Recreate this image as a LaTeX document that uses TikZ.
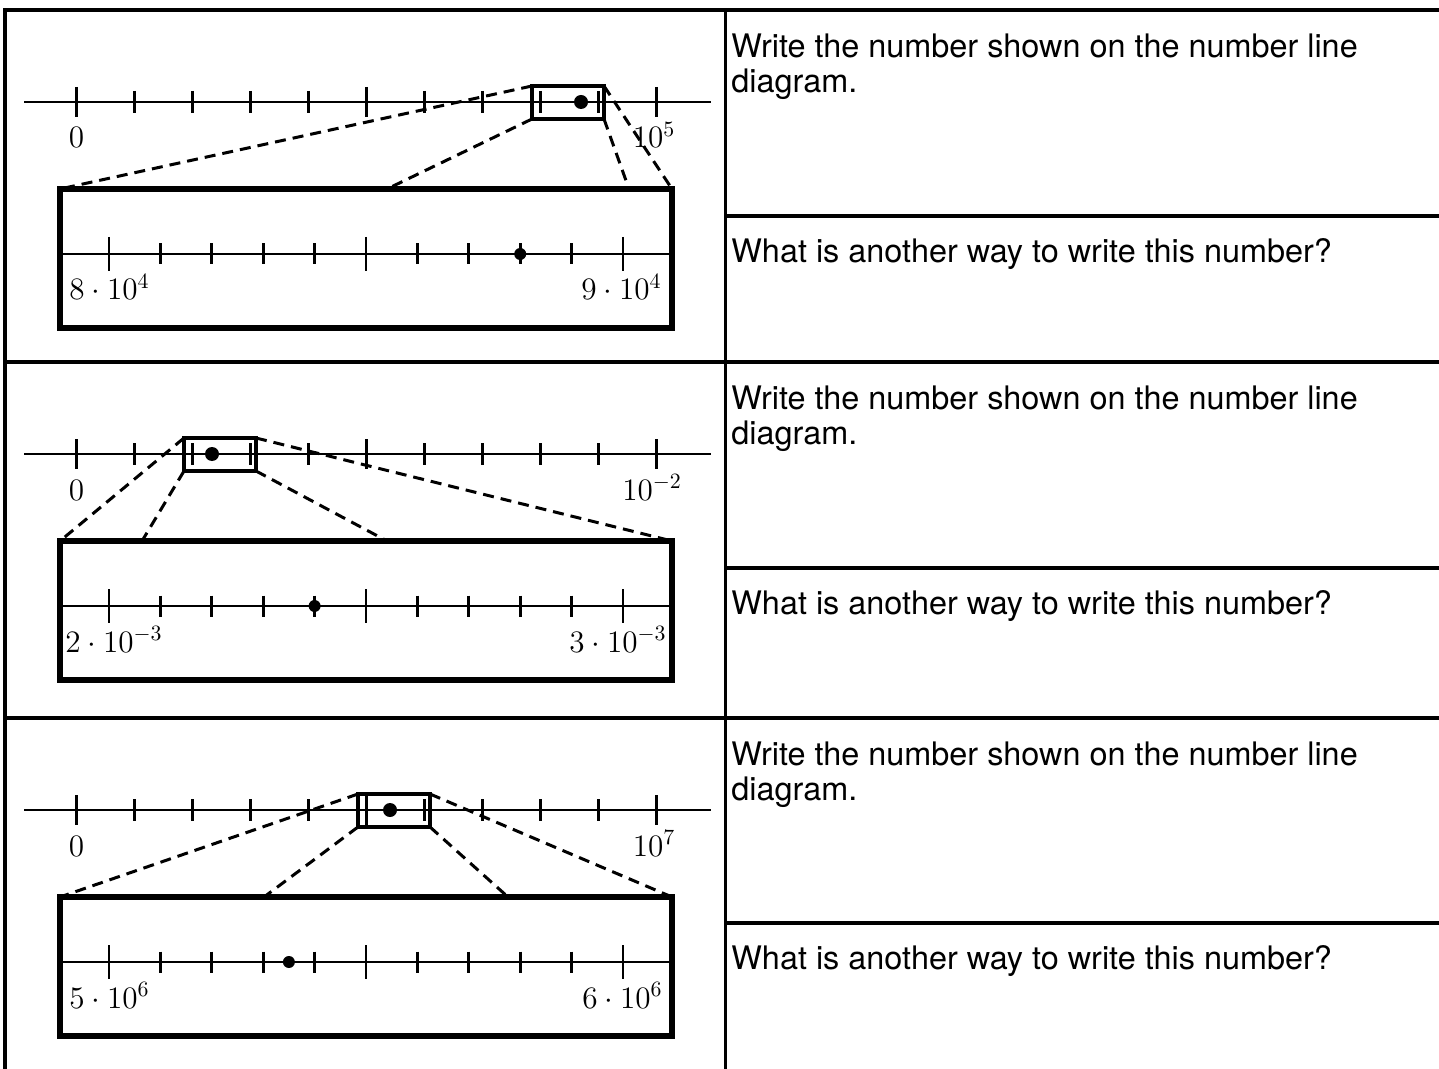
\RequirePackage{fix-cm}
\documentclass[tikz,border=0pt]{standalone}
\usepackage{amsmath}
\usepackage{fontspec}
\newfontfamily\heros{TeX Gyre Heros}
\usepackage{tikz}

\begin{document}
\begin{tikzpicture}[x=0.5pt,y=-0.5pt,
  tableline/.style={line width=1.65pt},
  numline/.style={line width=1.4pt},
  winbox/.style={draw,line width=1.6pt,minimum width=36pt,minimum height=16.5pt,inner sep=0pt,outer sep=0pt},
  bigbox/.style={draw,line width=2.6pt,minimum width=306pt,minimum height=69.5pt,inner sep=0pt,outer sep=0pt},
  zoomline/.style={line width=1.5pt,dash pattern=on 5.5pt off 3.5pt},
  lab/.style={anchor=base,inner sep=0pt,font=\fontsize{15.6}{19}\selectfont},
  question/.style={anchor=north west,align=left,inner sep=0pt,font=\heros\fontsize{16.2}{17.5}\selectfont}]
\useasboundingbox (0,0) rectangle (1439,1069);

% table
\draw [tableline] (5,1069) -- (5,10) -- (1439,10);
\draw [tableline] (725.5,10) -- (725.5,1069);
\draw [tableline] (5,362) -- (1439,362);
\draw [tableline] (5,718) -- (1439,718);
\draw [tableline] (725.5,216) -- (1439,216);
\draw [tableline] (725.5,568) -- (1439,568);
\draw [tableline] (725.5,923) -- (1439,923);
\node [question] (Q1a) at (731,33) {Write the number shown on the number line\\diagram.};
\node [question] (Q1b) at (731,238) {What is another way to write this number?};
\node [question] (Q2a) at (731,385) {Write the number shown on the number line\\diagram.};
\node [question] (Q2b) at (731,590) {What is another way to write this number?};
\node [question] (Q3a) at (731,741) {Write the number shown on the number line\\diagram.};
\node [question] (Q3b) at (731,945) {What is another way to write this number?};

% first row
\begin{scope}[shift={(0,10)}]
\draw [numline] (24,92) -- (711,92);
\foreach \i in {1,2,3,4,6,7,8,9} \draw [numline] ({76.5+58*\i},81) -- ({76.5+58*\i},103);
\foreach \i in {0,5,10} \draw [numline] ({76.5+58*\i},77) -- ({76.5+58*\i},107);
\node [lab] (A0) at (76.5,138) {$0$};
\node [lab] (A1) at (654,138) {$10^5$};
\node [winbox] (W1) at (568,92.5) {};
\fill (581,92) circle (3.5pt);
\node [bigbox] (B1) at (366,248.5) {};
\draw [numline] (60,244) -- (672,244);
\foreach \i in {1,2,3,4,6,7,8,9} \draw [numline] ({109+51.4*\i},233.5) -- ({109+51.4*\i},254.5);
\foreach \i in {0,5,10} \draw [numline] ({109+51.4*\i},227) -- ({109+51.4*\i},261);
\node [lab] (C0) at (109.5,290) {$8\cdot10^4$};
\node [lab] (C1) at (621.5,290) {$9\cdot10^4$};
\fill (520.2,244) circle (3pt);
\coordinate (P1) at (387,179);
\coordinate (R1) at (629,179);
\draw [zoomline] (W1.north west) -- (B1.north west);
\draw [zoomline] (W1.south west) -- (P1);
\draw [zoomline] (W1.north east) -- (B1.north east);
\draw [zoomline] (W1.south east) -- (R1);
\end{scope}

% second row
\begin{scope}[shift={(0,362)}]
\draw [numline] (24,92) -- (711,92);
\foreach \i in {1,2,3,4,6,7,8,9} \draw [numline] ({76.5+58*\i},81) -- ({76.5+58*\i},103);
\foreach \i in {0,5,10} \draw [numline] ({76.5+58*\i},77) -- ({76.5+58*\i},107);
\node [lab] (A0) at (76.5,138) {$0$};
\node [lab] (A1) at (652,138) {$10^{-2}$};
\node [winbox] (W2) at (220,92.5) {};
\fill (212,92) circle (3.5pt);
\node [bigbox] (B2) at (366,248.5) {};
\draw [numline] (60,244) -- (672,244);
\foreach \i in {1,2,3,4,6,7,8,9} \draw [numline] ({109+51.4*\i},233.5) -- ({109+51.4*\i},254.5);
\foreach \i in {0,5,10} \draw [numline] ({109+51.4*\i},227) -- ({109+51.4*\i},261);
\node [lab] (C0) at (114,290) {$2\cdot10^{-3}$};
\node [lab] (C1) at (618,290) {$3\cdot10^{-3}$};
\fill (314.6,244) circle (3pt);
\coordinate (P2) at (142,179);
\coordinate (R2) at (387,179);
\draw [zoomline] (W2.north west) -- (B2.north west);
\draw [zoomline] (W2.south west) -- (P2);
\draw [zoomline] (W2.north east) -- (B2.north east);
\draw [zoomline] (W2.south east) -- (R2);
\end{scope}

% third row
\begin{scope}[shift={(0,718)}]
\draw [numline] (24,92) -- (711,92);
\foreach \i in {1,2,3,4,6,7,8,9} \draw [numline] ({76.5+58*\i},81) -- ({76.5+58*\i},103);
\foreach \i in {0,5,10} \draw [numline] ({76.5+58*\i},77) -- ({76.5+58*\i},107);
\node [lab] (A0) at (76.5,138) {$0$};
\node [lab] (A1) at (654,138) {$10^7$};
\node [winbox] (W3) at (394,92.5) {};
\fill (390,92) circle (3.5pt);
\node [bigbox] (B3) at (366,248.5) {};
\draw [numline] (60,244) -- (672,244);
\foreach \i in {1,2,3,4,6,7,8,9} \draw [numline] ({109+51.4*\i},233.5) -- ({109+51.4*\i},254.5);
\foreach \i in {0,5,10} \draw [numline] ({109+51.4*\i},227) -- ({109+51.4*\i},261);
\node [lab] (C0) at (109.5,290) {$5\cdot10^6$};
\node [lab] (C1) at (622.5,290) {$6\cdot10^6$};
\fill (288.9,244) circle (3pt);
\coordinate (P3) at (264,179);
\coordinate (R3) at (508,179);
\draw [zoomline] (W3.north west) -- (B3.north west);
\draw [zoomline] (W3.south west) -- (P3);
\draw [zoomline] (W3.north east) -- (B3.north east);
\draw [zoomline] (W3.south east) -- (R3);
\end{scope}
\end{tikzpicture}
\end{document}
